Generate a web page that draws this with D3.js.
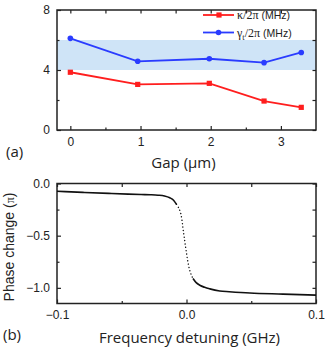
<!DOCTYPE html>
<html>
<head>
<meta charset="utf-8">
<script src="https://cdn.jsdelivr.net/npm/d3@7"></script>
<style>
  body { margin: 0; background: #fff; }
  svg { display: block; }
  .tick text { font-family: "Liberation Sans", Arial, sans-serif; font-size: 12px; fill: #222; }
  .tick line { stroke: #222; stroke-width: 1.2; }
</style>
</head>
<body>
<div id="chart"></div>
<script>
const width = 332;
const height = 352;

// panel (a)
const gaps = [0, 0.96, 1.98, 2.76, 3.29];
const kappa = [3.85, 3.04, 3.11, 1.93, 1.51];
const gammaT = [6.11, 4.58, 4.75, 4.49, 5.17];
const bandRange = [4, 6];
const gapTicks = [0, 1, 2, 3];
const gapMinor = [0.5, 1.5, 2.5];
const rateTicks = [0, 4, 8];
const rateMinor = [2, 6];

// panel (b)
const detuning = [-0.1, -0.08, -0.06, -0.045, -0.035, -0.028, -0.022, -0.017, -0.0129, -0.01, -0.0077, -0.006,
  -0.0046, -0.0035, -0.0026, -0.0017, -0.0008, 0, 0.0008, 0.0016, 0.0025, 0.0037, 0.005, 0.0075, 0.0103,
  0.014, 0.018, 0.0257, 0.033, 0.049, 0.0746, 0.1];
const phase = [-0.074, -0.085, -0.095, -0.102, -0.106, -0.108, -0.112, -0.12, -0.137, -0.16, -0.2, -0.235,
  -0.28, -0.35, -0.44, -0.52, -0.6, -0.665, -0.73, -0.785, -0.83, -0.875, -0.91, -0.95, -0.975,
  -0.995, -1.01, -1.03, -1.037, -1.05, -1.06, -1.07];
const freqTicks = [-0.1, 0, 0.1];
const freqMinor = [-0.05, 0.05];
const phaseTicks = [0, -0.5, -1.0];
const phaseMinor = [-0.25, -0.75];

const svg = d3.select("#chart").append("svg")
  .attr("width", width)
  .attr("height", height);

const left = 57, right = 316;

function frameAxes(g, x, y, xt, xm, yt, ym, xfmt, yfmt, top, bottom) {
  g.append("g").attr("transform", `translate(0,${bottom})`)
    .call(d3.axisBottom(x).tickValues(xt).tickSize(-4).tickPadding(7).tickFormat(xfmt))
    .call(a => a.select(".domain").remove());
  g.append("g").attr("transform", `translate(0,${bottom})`)
    .call(d3.axisBottom(x).tickValues(xm).tickSize(-2.5).tickFormat(""))
    .call(a => a.select(".domain").remove());
  g.append("g").attr("transform", `translate(0,${top})`)
    .call(d3.axisTop(x).tickValues(xt.concat(xm)).tickSize(-3.5).tickFormat(""))
    .call(a => a.select(".domain").remove());
  g.append("g").attr("transform", `translate(${left},0)`)
    .call(d3.axisLeft(y).tickValues(yt).tickSize(-4).tickPadding(7).tickFormat(yfmt))
    .call(a => a.select(".domain").remove());
  g.append("g").attr("transform", `translate(${left},0)`)
    .call(d3.axisLeft(y).tickValues(ym).tickSize(-2.5).tickFormat(""))
    .call(a => a.select(".domain").remove());
  g.append("g").attr("transform", `translate(${right},0)`)
    .call(d3.axisRight(y).tickValues(yt.concat(ym)).tickSize(-3.5).tickFormat(""))
    .call(a => a.select(".domain").remove());
  g.append("rect")
    .attr("x", left).attr("y", top)
    .attr("width", right - left).attr("height", bottom - top)
    .attr("fill", "none").attr("stroke", "#222").attr("stroke-width", 1.5);
}

// ---------- (a) ----------
const topA = 10, botA = 130;
const xA = d3.scaleLinear().domain([-0.19, 3.5]).range([left, right]);
const yA = d3.scaleLinear().domain([0, 8]).range([botA, topA]);
const gA = svg.append("g");

gA.append("rect")
  .attr("x", left).attr("width", right - left)
  .attr("y", yA(bandRange[1])).attr("height", yA(bandRange[0]) - yA(bandRange[1]))
  .attr("fill", "#cfe4f7");

frameAxes(gA, xA, yA, gapTicks, gapMinor, rateTicks, rateMinor, d3.format("d"), d3.format("d"), topA, botA);

const lineA = (vals) => d3.line().x((d, i) => xA(gaps[i])).y(d => yA(d))(vals);

gA.append("path").attr("d", lineA(gammaT)).attr("fill", "none").attr("stroke", "#2a3cff").attr("stroke-width", 1.8);
gA.selectAll("circle.g").data(gammaT).enter().append("circle")
  .attr("cx", (d, i) => xA(gaps[i])).attr("cy", d => yA(d)).attr("r", 2.8).attr("fill", "#2a3cff");

gA.append("path").attr("d", lineA(kappa)).attr("fill", "none").attr("stroke", "#ff1e1e").attr("stroke-width", 1.8);
gA.selectAll("rect.k").data(kappa).enter().append("rect")
  .attr("x", (d, i) => xA(gaps[i]) - 2.6).attr("y", d => yA(d) - 2.6)
  .attr("width", 5.2).attr("height", 5.2).attr("fill", "#ff1e1e");

// legend
const leg = gA.append("g");
leg.append("line").attr("x1", 203).attr("x2", 234).attr("y1", 15).attr("y2", 15).attr("stroke", "#ff1e1e").attr("stroke-width", 1.8);
leg.append("rect").attr("x", 216.4).attr("y", 12.4).attr("width", 5.2).attr("height", 5.2).attr("fill", "#ff1e1e");
leg.append("line").attr("x1", 203).attr("x2", 234).attr("y1", 32.5).attr("y2", 32.5).attr("stroke", "#2a3cff").attr("stroke-width", 1.8);
leg.append("circle").attr("cx", 218.5).attr("cy", 32.5).attr("r", 2.8).attr("fill", "#2a3cff");

const t1 = leg.append("text").attr("x", 237).attr("y", 19).attr("fill", "#222");
t1.append("tspan").attr("font-family", "Liberation Serif, serif").attr("font-size", 12).text("κ/2π ");
t1.append("tspan").attr("font-family", "Liberation Sans, Arial, sans-serif").attr("font-size", 10.5).text("(MHz)");
const t2 = leg.append("text").attr("x", 237).attr("y", 36.5).attr("fill", "#222");
t2.append("tspan").attr("font-family", "Liberation Serif, serif").attr("font-size", 12).text("γ");
t2.append("tspan").attr("font-family", "Liberation Serif, serif").attr("font-size", 8.5).attr("dy", 3).text("t");
t2.append("tspan").attr("font-family", "Liberation Serif, serif").attr("font-size", 12).attr("dy", -3).text("/2π ");
t2.append("tspan").attr("font-family", "Liberation Sans, Arial, sans-serif").attr("font-size", 10.5).text("(MHz)");

svg.append("text").attr("x", (left + right) / 2 - 3).attr("y", 168)
  .attr("text-anchor", "middle").attr("font-family", "Open Sans, sans-serif").attr("font-size", 15).attr("fill", "#222")
  .text("Gap (μm)");
svg.append("text").attr("x", 6).attr("y", 157)
  .attr("font-family", "Open Sans, sans-serif").attr("font-size", 15).attr("fill", "#222").text("(a)");

// ---------- (b) ----------
const topB = 183.5, botB = 303.5;
const xB = d3.scaleLinear().domain([-0.1, 0.1]).range([left, right]);
const yB = d3.scaleLinear().domain([-1.15, 0.0]).range([botB, topB]);
const gB = svg.append("g");

frameAxes(gB, xB, yB, freqTicks, freqMinor, phaseTicks, phaseMinor, d3.format(".1f"), d3.format(".1f"), topB, botB);

const pts = detuning.map((f, i) => [f, phase[i]]);
const steep = pts.filter(p => p[1] < -0.17 && p[1] > -0.93);
const leftPart = pts.filter(p => p[1] >= -0.2);
const rightPart = pts.filter(p => p[1] <= -0.91);
const lineB = d3.line().x(d => xB(d[0])).y(d => yB(d[1])).curve(d3.curveMonotoneX);

gB.append("path").attr("d", lineB(leftPart)).attr("fill", "none").attr("stroke", "#111").attr("stroke-width", 1.6);
gB.append("path").attr("d", lineB(rightPart)).attr("fill", "none").attr("stroke", "#111").attr("stroke-width", 1.6);
gB.append("path").attr("d", d3.line().x(d => xB(d[0])).y(d => yB(d[1])).curve(d3.curveCatmullRom)(steep))
  .attr("fill", "none").attr("stroke", "#111").attr("stroke-width", 1.4)
  .attr("stroke-linecap", "round").attr("stroke-dasharray", "0.1 3.3");

const yl = svg.append("text")
  .attr("transform", `translate(13.5,247) rotate(-90)`)
  .attr("text-anchor", "middle").attr("font-family", "Liberation Sans, Arial, sans-serif").attr("font-size", 14).attr("fill", "#222");
yl.append("tspan").text("Phase change (");
yl.append("tspan").attr("font-family", "Liberation Serif, serif").attr("font-size", 12).text("π");
yl.append("tspan").text(")");
svg.append("text").attr("x", (left + right) / 2 + 3).attr("y", 343)
  .attr("text-anchor", "middle").attr("font-family", "Open Sans, sans-serif").attr("font-size", 15).attr("fill", "#222")
  .text("Frequency detuning (GHz)");
svg.append("text").attr("x", 3).attr("y", 340)
  .attr("font-family", "Open Sans, sans-serif").attr("font-size", 15).attr("fill", "#222").text("(b)");
</script>
</body>
</html>
